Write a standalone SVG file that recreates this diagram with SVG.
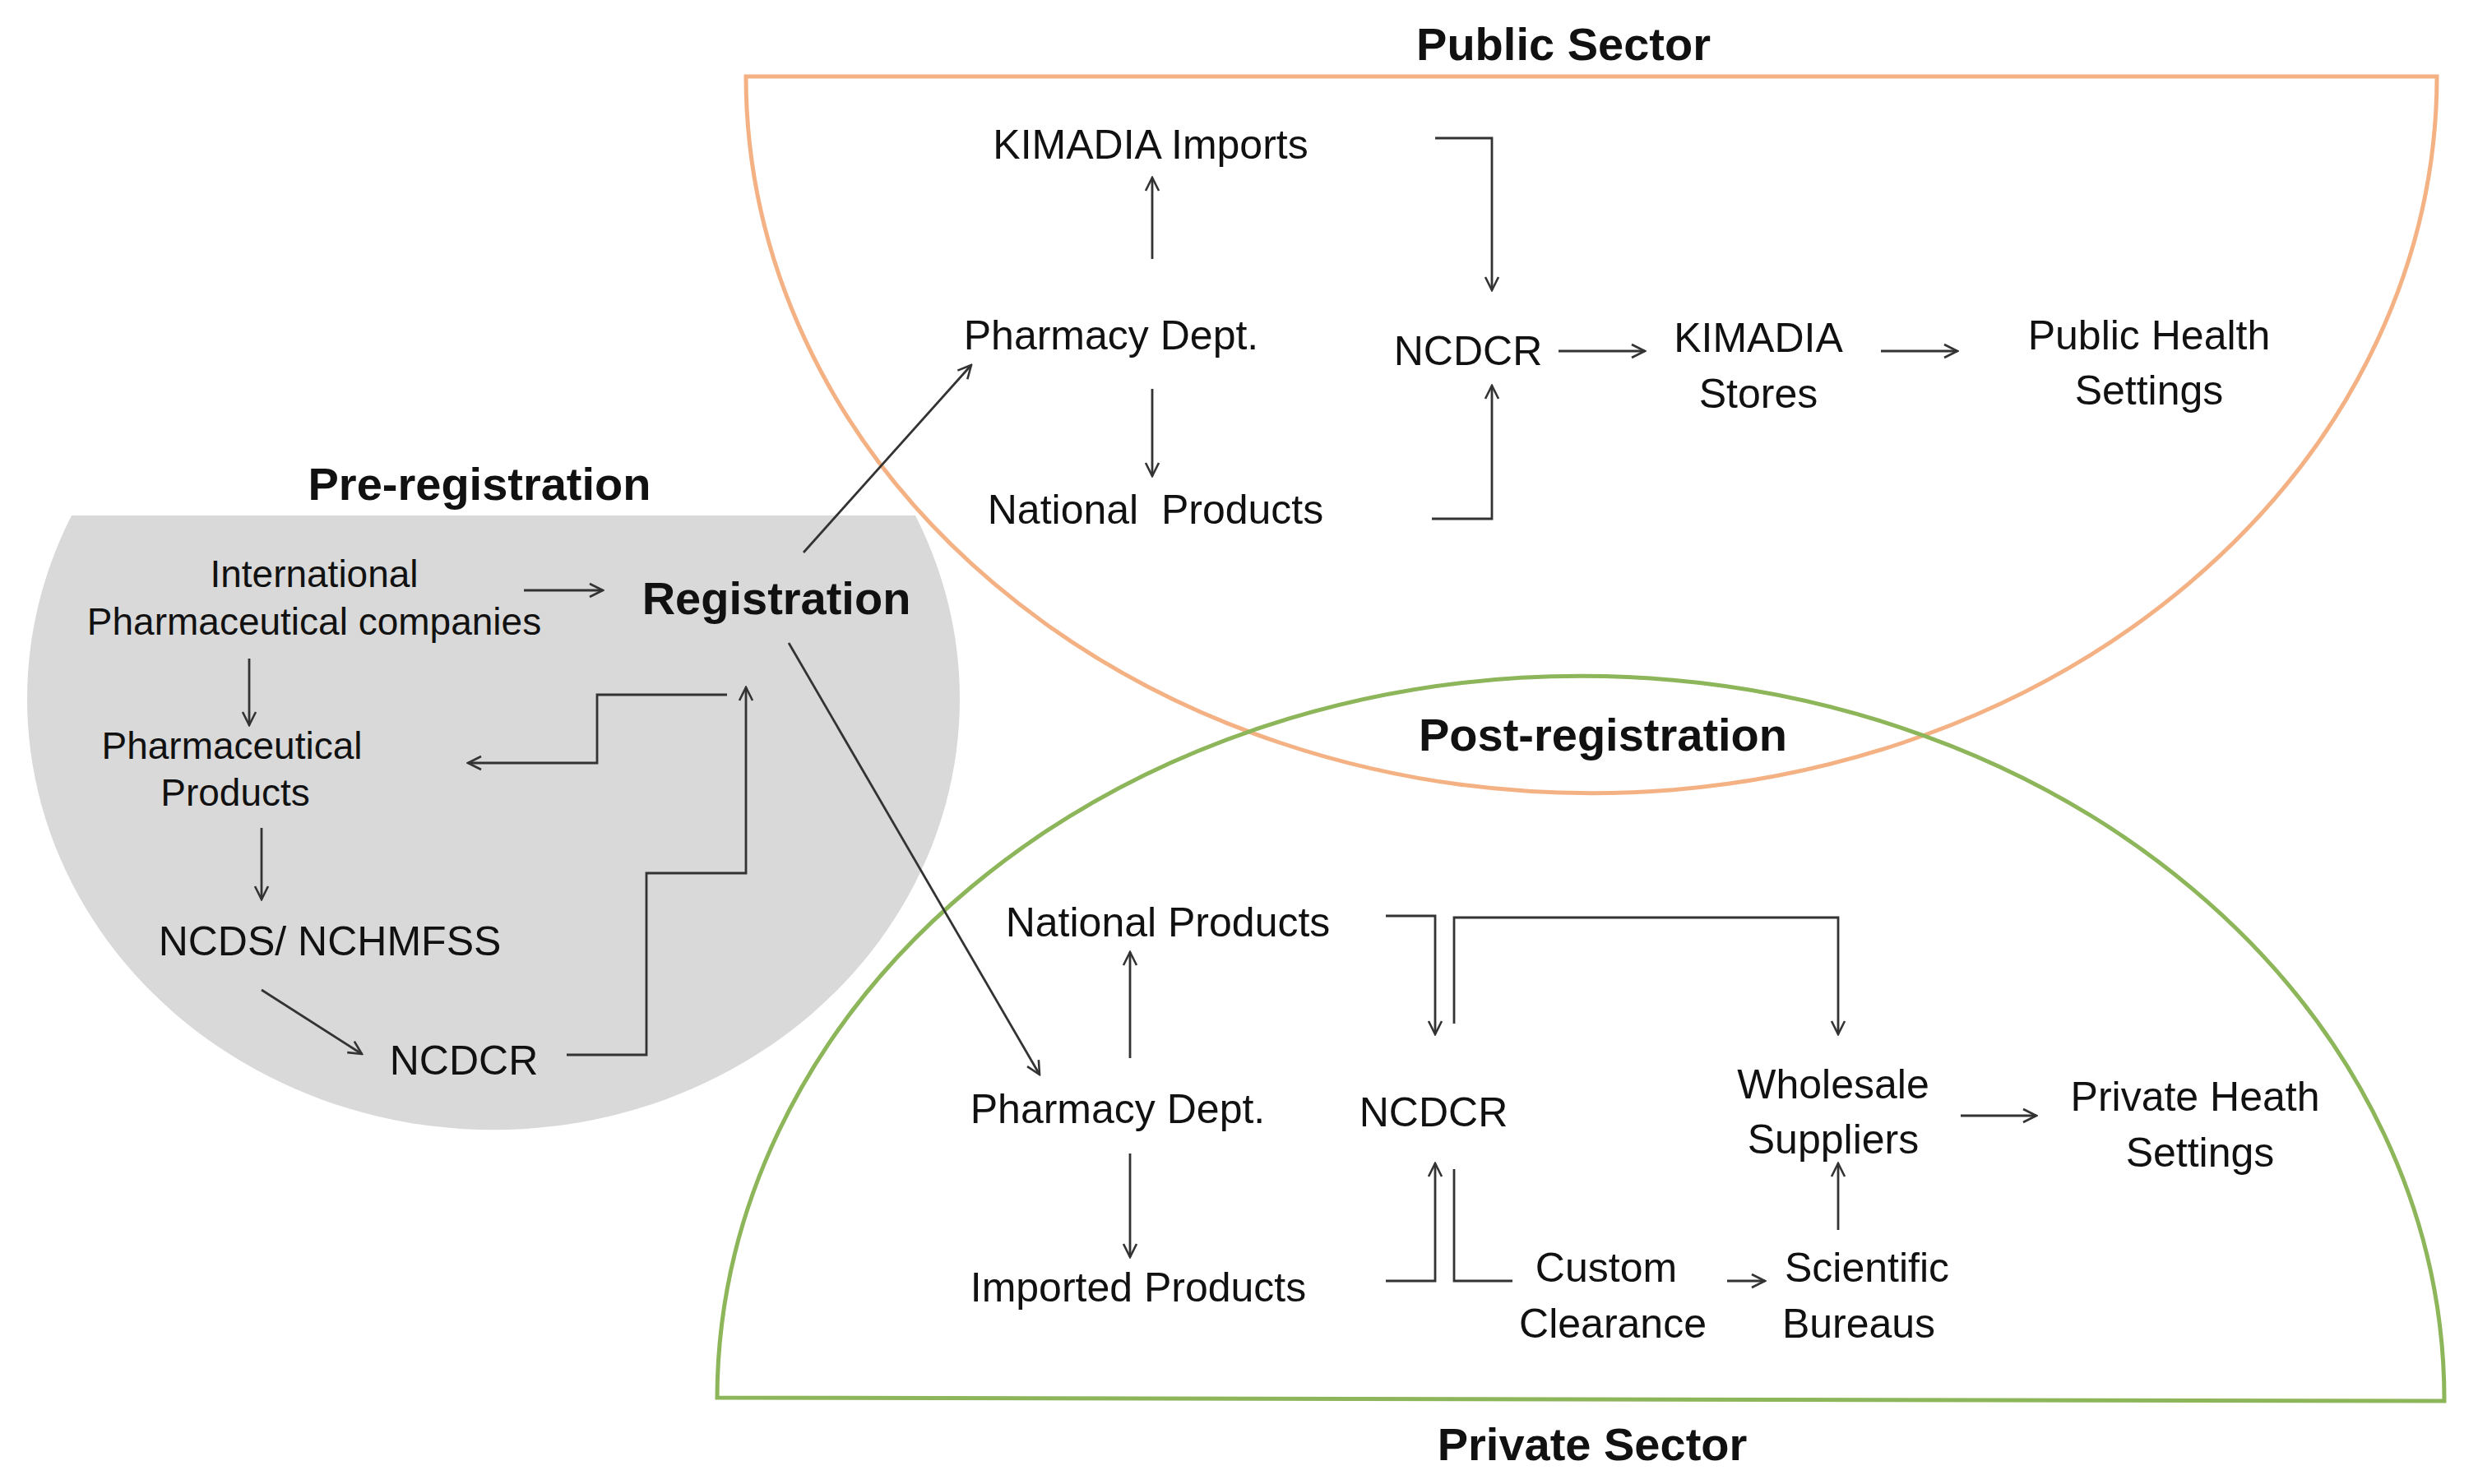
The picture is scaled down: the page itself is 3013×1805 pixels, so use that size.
<svg xmlns="http://www.w3.org/2000/svg" width="3013" height="1805" viewBox="0 0 3013 1805">
<style>
text{font-family:"Liberation Sans",Arial,sans-serif;fill:#111;text-anchor:middle}
.n{font-size:50px}
.s{font-size:46px}
.b{font-size:56px;font-weight:bold}
.c{fill:none;stroke:#333;stroke-width:2.8}
.a{marker-end:url(#ah)}
</style>
<defs>
<marker id="ah" viewBox="0 0 20 20" refX="18" refY="10" markerWidth="20" markerHeight="20" markerUnits="userSpaceOnUse" orient="auto">
<path d="M2,2 L18,10 L2,18" fill="none" stroke="#333" stroke-width="2.6"/>
</marker>
</defs>
<rect width="3013" height="1805" fill="#fff"/>
<g id="pre-region">
<path d="M87,627 H1113 A567,524 0 1 1 87,627 Z" fill="#d9d9d9"/>
</g>
<g id="public-region">
<path d="M907,93 H2963 A1028,872 0 0 1 907,93 Z" fill="none" stroke="#f4b183" stroke-width="5"/>
</g>
<g id="private-region">
<path d="M872,1700 A1050,880 0 0 1 2972,1704 Z" fill="none" stroke="#8db55a" stroke-width="5"/>
</g>
<g id="labels">
<text class="b" x="1901" y="73">Public Sector</text>
<text class="b" x="583" y="608">Pre-registration</text>
<text class="b" x="1949" y="913">Post-registration</text>
<text class="b" x="1936" y="1776">Private Sector</text>
</g>
<g id="intl"><text class="s" x="382" y="714">International</text><text class="s" x="382" y="772">Pharmaceutical companies</text></g>
<g id="registration"><text class="b" x="944" y="747">Registration</text></g>
<g id="pharm-products"><text class="s" x="282" y="923">Pharmaceutical</text><text class="s" x="286" y="980">Products</text></g>
<g id="ncds"><text class="n" x="401" y="1162">NCDS/ NCHMFSS</text></g>
<g id="ncdcr-pre"><text class="n" x="564" y="1307">NCDCR</text></g>
<g id="kimadia-imports"><text class="n" x="1399" y="193">KIMADIA Imports</text></g>
<g id="pharm-pub"><text class="n" x="1351" y="425">Pharmacy Dept.</text></g>
<g id="national-pub"><text class="n" x="1405" y="637" xml:space="preserve">National  Products</text></g>
<g id="ncdcr-pub"><text class="n" x="1785" y="444">NCDCR</text></g>
<g id="kimadia-stores"><text class="n" x="2138" y="428">KIMADIA</text><text class="n" x="2138" y="496">Stores</text></g>
<g id="public-health"><text class="n" x="2613" y="425">Public Health</text><text class="n" x="2613" y="492">Settings</text></g>
<g id="national-priv"><text class="n" x="1420" y="1139">National Products</text></g>
<g id="pharm-priv"><text class="n" x="1359" y="1366">Pharmacy Dept.</text></g>
<g id="imported"><text class="n" x="1384" y="1583">Imported Products</text></g>
<g id="ncdcr-priv"><text class="n" x="1743" y="1370">NCDCR</text></g>
<g id="wholesale"><text class="n" x="2229" y="1336">Wholesale</text><text class="n" x="2229" y="1403">Suppliers</text></g>
<g id="private-health"><text class="n" x="2669" y="1351">Private Heath</text><text class="n" x="2675" y="1419">Settings</text></g>
<g id="custom"><text class="n" x="1953" y="1559">Custom</text><text class="n" x="1961" y="1627">Clearance</text></g>
<g id="scientific"><text class="n" x="2270" y="1559">Scientific</text><text class="n" x="2260" y="1627">Bureaus</text></g>
<g id="connectors">
<path class="c a" d="M637,718 H733"/>
<path class="c a" d="M303,801 V882"/>
<path class="c a" d="M318,1007 V1094"/>
<path class="c a" d="M318,1204 L440,1282"/>
<path class="c a" d="M689,1283 H786 V1062 H907 V836"/>
<path class="c a" d="M884,845 H726 V928 H569"/>
<path class="c a" d="M977,672 L1181,444"/>
<path class="c a" d="M959,782 L1264,1307"/>
<path class="c a" d="M1401,315 V216"/>
<path class="c a" d="M1401,473 V579"/>
<path class="c a" d="M1745,168 H1814 V353"/>
<path class="c a" d="M1741,631 H1814 V469"/>
<path class="c a" d="M1895,427 H2000"/>
<path class="c a" d="M2287,427 H2380"/>
<path class="c a" d="M1374,1287 V1158"/>
<path class="c a" d="M1374,1403 V1529"/>
<path class="c a" d="M1685,1114 H1745 V1258"/>
<path class="c a" d="M1768,1245 V1116 H2235 V1258"/>
<path class="c a" d="M1685,1558 H1745 V1415"/>
<path class="c" d="M1768,1422 V1558 H1839"/>
<path class="c a" d="M2100,1558 H2146"/>
<path class="c a" d="M2235,1496 V1415"/>
<path class="c a" d="M2384,1357 H2476"/>
</g>
</svg>
